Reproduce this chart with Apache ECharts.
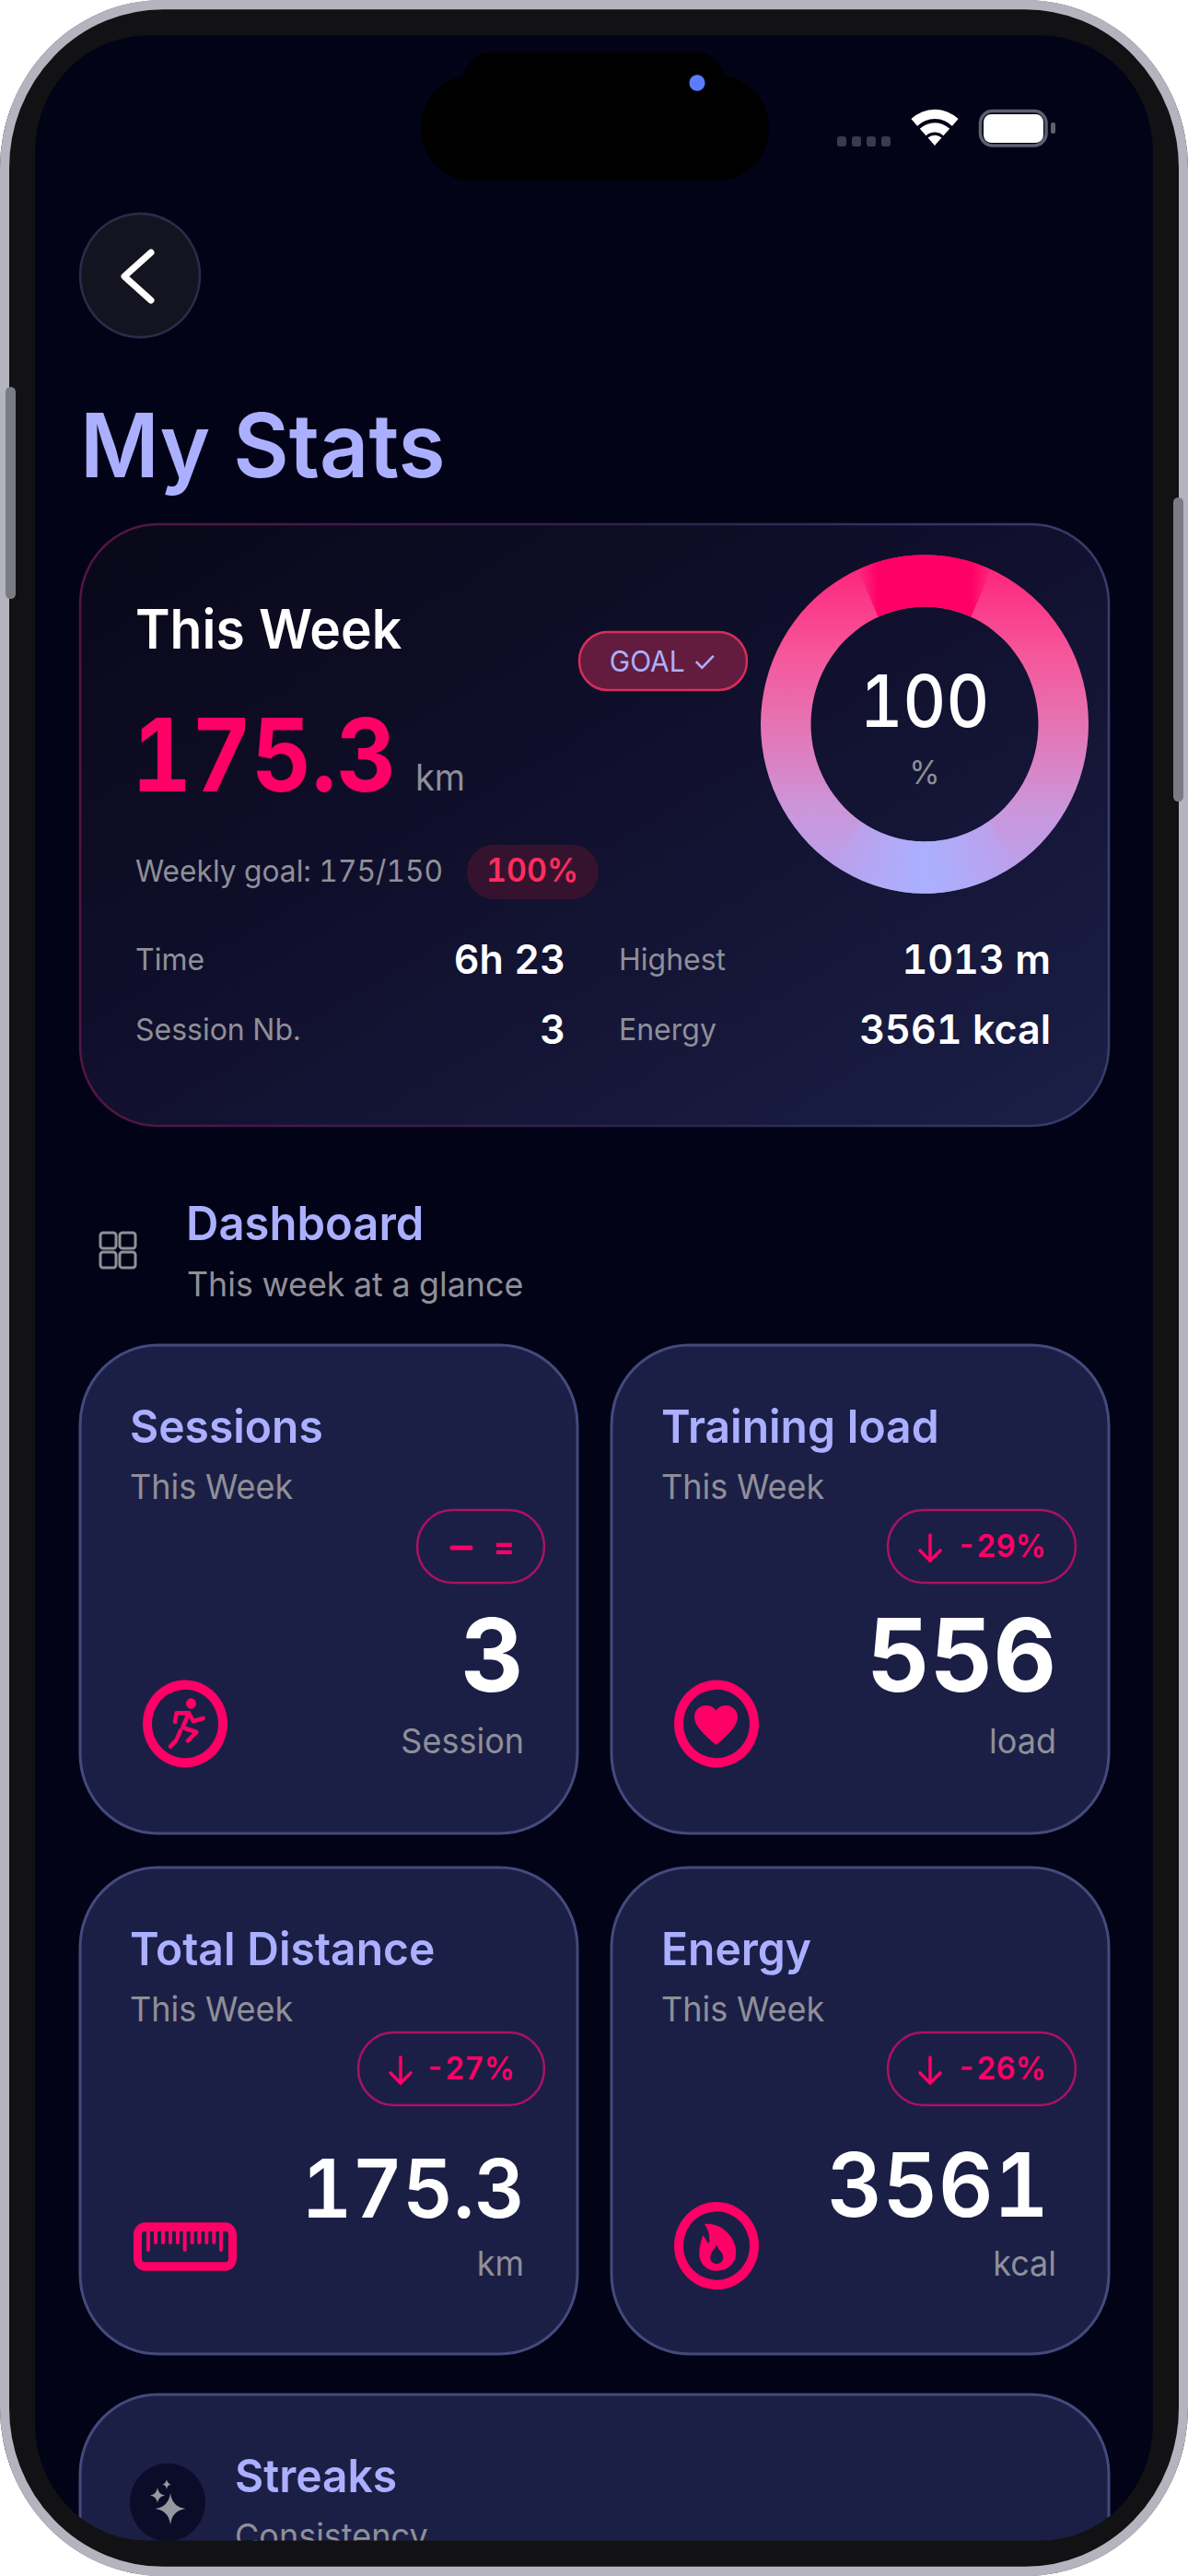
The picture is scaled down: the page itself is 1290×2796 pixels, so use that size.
<!DOCTYPE html>
<html>
<head>
<meta charset="utf-8">
<title>My Stats</title>
<script src="https://cdn.jsdelivr.net/npm/echarts@6/dist/echarts.min.js"></script>
<style>
  html, body { margin: 0; padding: 0; background: #fff; height: 2796px; }
  #chart { width: 1290px; height: 2709px; transform-origin: 0 0; transform: scaleY(1.03212); }
  #chart text { font-feature-settings: 'tnum' !important; font-variant-numeric: tabular-nums !important; }
</style>
</head>
<body>
<div id="chart"></div>
<script>
// data
var goalPercent = [100];
var weekDistance = '175.3';
var weekGoalText = 'Weekly goal: 175/150';
var weekStatLabels = ['Time', 'Session Nb.', 'Highest', 'Energy'];
var weekStatValues = ['6h 23', '3', '1013 m', '3561 kcal'];
var cardTitles = ['Sessions', 'Training load', 'Total Distance', 'Energy'];
var cardValues = ['3', '556', '175.3', '3561'];
var cardUnits = ['Session', 'load', 'km', 'kcal'];
var cardDeltas = ['=', '-29%', '-27%', '-26%'];

var S = 2796 / 2709;
var PINK = '#ff0066', LAV = '#aab0ff', GREY = '#8f8f98', FONT = 'Inter';
var els = [];

// graphic has no plain path type, so the icon outlines get registered as shapes
echarts.graphic.registerShape('heart', echarts.graphic.extendPath('M12 21C5 15 2 11 2 7.5 2 4.5 4.5 2 7.5 2 9.5 2 11 3 12 4.5 13 3 14.5 2 16.5 2 19.5 2 22 4.5 22 7.5 22 11 19 15 12 21Z'));
echarts.graphic.registerShape('flame', echarts.graphic.extendPath('M165 132C215 125 268 170 268 225 268 262 240 285 206 285 172 285 148 262 148 228 148 205 155 185 160 168 168 178 172 190 180 195 184 170 178 150 165 132ZM205 200C198 215 184 225 184 242 184 254 194 262 205 262 216 262 226 254 226 242 226 222 210 220 205 200Z'));
echarts.graphic.registerShape('star', echarts.graphic.extendPath('M0 -10Q1.2 -1.2 10 0 1.2 1.2 0 10 -1.2 1.2 -10 0 -1.2 -1.2 0 -10Z'));

function Y(v) { return v / S; }
function add(type, z, o) { o.type = type; o.z = z; o.silent = true; els.push(o); }

function rect(x0, y0, x1, y1, r, style, z) {
  add('rect', z || 1, { shape: { x: x0, y: Y(y0), width: x1 - x0, height: Y(y1 - y0), r: r }, style: style });
}
function circle(cx, cy, r, style, z) {
  add('circle', z || 1, { shape: { cx: cx, cy: Y(cy), r: r }, style: style });
}
function line(pts, width, color, z) {
  add('polyline', z || 3, {
    shape: { points: pts.map(function (p) { return [p[0], Y(p[1])]; }) },
    style: { stroke: color, lineWidth: width, fill: null, lineCap: 'round', lineJoin: 'round' }
  });
}
// box is the outline's own bounding box [x, y, w, h]
function icon(name, box, x, y, w, h, color) {
  add(name, 3, {
    x: x - box[0] * w / box[2], y: Y(y - box[1] * h / box[3]),
    scaleX: w / box[2], scaleY: Y(h) / box[3],
    style: { fill: color }
  });
}
// baseline is given in reference pixels, k narrows the text a little
function T(s, x, base, size, color, weight, align, k) {
  add('text', 4, {
    x: x, scaleX: k || 1,
    style: {
      text: s, x: 0, y: Y(base) - size * 0.36, fill: color,
      font: (weight || 400) + ' ' + size + 'px ' + FONT,
      textAlign: align || 'left', textVerticalAlign: 'middle'
    }
  });
}
function arrow(x, y0, y1) {
  line([[x, y0], [x, y1]], 3.5, PINK);
  line([[x - 11, y1 - 11], [x, y1], [x + 11, y1 - 11]], 3.5, PINK);
}

// phone body
rect(0, 0, 1290, 2796, 177, { fill: '#121215' }, 0);
rect(38, 38, 1252, 2758, 122, { fill: '#020316' }, 0);

// island and status bar
rect(502, 57, 788, 130, 32, { fill: '#000' });
rect(457, 82, 835, 196, 57, { fill: '#000' });
add('ellipse', 2, { shape: { cx: 757, cy: Y(90), rx: 8.5, ry: 8.5 }, style: { fill: '#5c7cff' } });
[909, 925, 941, 957].forEach(function (x) { rect(x, 148, x + 10, 159, 3, { fill: '#3a3a4c' }); });
[[28, 38], [14, 24], [0, 11]].forEach(function (b) {
  add('sector', 2, {
    shape: { cx: 1015, cy: Y(158), r0: b[0], r: b[1], startAngle: -Math.PI / 2 - 0.74, endAngle: -Math.PI / 2 + 0.74 },
    style: { fill: '#fff' }
  });
});
rect(1064.5, 120.5, 1136, 158, 13, { fill: 'none', stroke: '#5f5f70', lineWidth: 3.5 });
rect(1068, 124, 1133, 155, 8, { fill: '#fff' });
rect(1141, 133, 1146, 145, 2, { fill: '#5f5f70' });

// back button and title
circle(152, 299, 65, { fill: '#13141f', stroke: '#2b2c4a', lineWidth: 2.5 });
line([[164, 274], [135, 300], [164, 326]], 7, '#fff');
T('My Stats', 87, 518, 93, LAV, 600);

// this week card
rect(87, 569, 1204, 1222, 84, {
  fill: { type: 'linear', x: 0, y: 0, x2: 1, y2: 1, colorStops: [
    { offset: 0, color: '#090818' }, { offset: 0.45, color: '#100f2c' }, { offset: 1, color: '#1b1f47' }
  ] },
  stroke: { type: 'linear', x: 0, y: 0, x2: 1, y2: 0, colorStops: [
    { offset: 0, color: '#561444' }, { offset: 0.55, color: '#2d2250' }, { offset: 1, color: '#3a3d6c' }
  ] },
  lineWidth: 2.5
});
T('This Week', 147, 704, 57, '#fff', 600);
T(weekDistance, 143, 858, 106, PINK, 700, 'left', 0.95);
T('km', 451, 858, 38, GREY);
rect(629, 686, 811, 749, 32, { fill: '#631c3e', stroke: '#d62e58', lineWidth: 2.5 });
T('GOAL \u2713', 720, 728, 30, LAV, 400, 'center');
T(weekGoalText, 147, 957, 31.7, GREY);
rect(507, 917, 650, 976, 29, { fill: '#35132f' });
T(goalPercent[0] + '%', 578, 957, 34, '#ff2d5f', 600, 'center');

var statX = [147, 147, 672, 672], statR = [614, 614, 1141, 1141], statY = [1057, 1133, 1057, 1133];
weekStatLabels.forEach(function (s, i) {
  T(s, statX[i], statY[i] - 4, 32, GREY);
  T(weekStatValues[i], statR[i], statY[i], 43, '#fff', 600, 'right');
});

// ring wedges on top of the pie, the original is a conic gradient
add('sector', 3, {
  shape: { cx: 1004, cy: Y(786), r0: 123.5, r: 178, startAngle: -Math.PI / 2 - 0.42, endAngle: -Math.PI / 2 + 0.42 },
  style: { fill: { type: 'linear', x: 0, y: 0, x2: 1, y2: 0, colorStops: [
    { offset: 0, color: 'rgba(255,0,102,0)' }, { offset: 0.15, color: 'rgba(255,0,102,1)' },
    { offset: 0.85, color: 'rgba(255,0,102,1)' }, { offset: 1, color: 'rgba(255,0,102,0)' }
  ] } }
});
add('sector', 3, {
  shape: { cx: 1004, cy: Y(786), r0: 123.5, r: 178, startAngle: Math.PI / 2 - 0.6, endAngle: Math.PI / 2 + 0.6 },
  style: { fill: { type: 'linear', x: 0, y: 0, x2: 1, y2: 0, colorStops: [
    { offset: 0, color: 'rgba(170,176,255,0)' }, { offset: 0.5, color: 'rgba(170,176,255,1)' }, { offset: 1, color: 'rgba(170,176,255,0)' }
  ] } }
});
T(String(goalPercent[0]), 1004, 789, 76, '#fff', 500, 'center', 0.95);
T('%', 1004, 851, 34, GREY, 400, 'center');

// dashboard header
[[109, 1338], [130, 1338], [109, 1359], [130, 1359]].forEach(function (p) {
  rect(p[0], p[1], p[0] + 17, p[1] + 17, 3, { fill: 'none', stroke: GREY, lineWidth: 3 });
});
T('Dashboard', 202, 1346, 49, LAV, 600);
T('This week at a glance', 203, 1407, 35.8, GREY);

// metric cards
var colX = [[87, 627], [664, 1204]], rowY = [[1460, 1990], [2027, 2555]];
var cardStyle = { fill: '#1b1f46', stroke: '#454a7d', lineWidth: 3 };
var titleX = [141, 718];
var pillX = [[453, 591], [964, 1168], [389, 591], [964, 1168]];
var valueR = [569, 1147, 570, 1139], valueBase = [1836, 1836, 2407, 2406], valueSize = [106, 106, 85, 93];
var valueWeight = [700, 700, 600, 600];
var unitR = [569, 1147, 569, 1147];
cardTitles.forEach(function (title, i) {
  var c = i % 2, r = i > 1 ? 1 : 0, top = rowY[r][0], tx = titleX[c];
  rect(colX[c][0], top, colX[c][1], rowY[r][1], 84, cardStyle);
  T(title, tx, top + 106, 48, LAV, 600);
  T('This Week', tx, top + 167, 36, GREY);
  var pTop = top + 179, pBot = top + 258;
  rect(pillX[i][0], pTop, pillX[i][1], pBot, 39, { fill: 'none', stroke: '#ad1160', lineWidth: 2.5 });
  if (i === 0) {
    line([[491, pTop + 41], [511, pTop + 41]], 5, PINK);
    T(cardDeltas[i], 547, pTop + 52, 34, PINK, 700, 'center');
  } else {
    arrow(pillX[i][0] + 46, pTop + 27, pTop + 55);
    T(cardDeltas[i], pillX[i][1] - 32, pTop + 51, 33, PINK, 600, 'right');
  }
  T(cardValues[i], valueR[i], valueBase[i], valueSize[i], '#fff', valueWeight[i], 'right');
  T(cardUnits[i], unitR[i], top + 443, 36, GREY, 400, 'right');
});

// card icons
var ringStyle = { fill: 'none', stroke: PINK, lineWidth: 10 };
circle(201, 1871, 41, ringStyle);
circle(778, 1871, 41, ringStyle);
circle(778, 2437.5, 41, ringStyle);
circle(207.5, 1849, 5.5, { fill: PINK }, 3);
function run(pts) { return pts.map(function (p) { return [130 + p[0] / 3, 1800 + p[1] / 3]; }); }
line(run([[180, 207], [185, 178], [225, 178], [240, 205], [272, 195]]), 4.5, PINK);
line(run([[225, 178], [205, 225], [250, 240], [222, 268]]), 4.5, PINK);
line(run([[198, 235], [185, 265], [165, 287]]), 4.5, PINK);
icon('heart', [2, 2, 20, 19], 754, 1851, 47, 43, PINK);
icon('flame', [148, 128, 120, 157], 759.3, 2412.7, 40, 52, PINK);
rect(149.5, 2417, 252.5, 2460, 8, { fill: 'none', stroke: PINK, lineWidth: 9 }, 3);
[93, 117, 141, 165, 189, 212, 236, 259, 283, 307, 330].forEach(function (zx, i) {
  line([[130 + zx / 3, 2421], [130 + zx / 3, i % 5 === 0 ? 2442 : 2434]], 4, PINK);
});

// streaks card, runs off the screen
rect(87, 2599, 1204, 2768, [84, 84, 20, 20], cardStyle);
circle(182, 2716, 41, { fill: '#0b0d28' }, 2);
var starBox = [-10, -10, 20, 20];
icon('star', starBox, 168.5, 2706, 33, 34, '#98989f');
icon('star', starBox, 163, 2700, 16, 17, '#98989f');
icon('star', starBox, 176, 2691, 10, 11, '#98989f');
T('Streaks', 255, 2705, 48, LAV, 600);
T('Consistency', 255, 2766, 36, GREY);

// bezel over the content, then the metal edge and buttons
rect(24, 24, 1266, 2772, 136, { fill: 'none', stroke: '#121215', lineWidth: 28 }, 5);
rect(5, 5, 1285, 2791, 172, { fill: 'none', stroke: '#b4b4bf', lineWidth: 10 }, 6);
rect(6, 420, 17, 650, 5, { fill: '#7b7b84' }, 7);
rect(1274, 540, 1285, 870, 5, { fill: '#7b7b84' }, 7);

var myChart = echarts.init(document.getElementById('chart'), null, { renderer: 'svg' });
myChart.setOption({
  animation: false,
  tooltip: { show: false },
  graphic: { elements: els },
  series: [{
    type: 'pie',
    silent: true,
    z: 2,
    center: [1004, Y(786)],
    radius: [123.5, 178],
    label: { show: false },
    labelLine: { show: false },
    itemStyle: {
      color: { type: 'linear', x: 0, y: 0, x2: 0, y2: 1, colorStops: [
        { offset: 0, color: '#ff1f78' }, { offset: 0.3, color: '#f5589b' }, { offset: 0.5, color: '#e573b3' },
        { offset: 0.75, color: '#cb96da' }, { offset: 1, color: '#b4a4f5' }
      ] }
    },
    data: goalPercent
  }]
});
</script>
</body>
</html>
